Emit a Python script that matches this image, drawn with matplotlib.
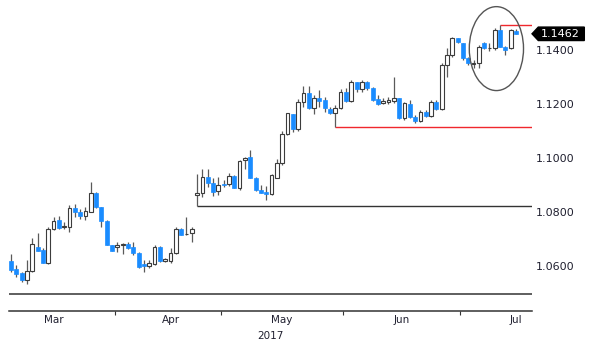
import numpy as np
import pandas as pd
import matplotlib
matplotlib.use('Agg')
import matplotlib.pyplot as plt
import matplotlib.transforms as mtransforms
from matplotlib.patches import Ellipse, Polygon

# Daily EUR/USD candles, 6 Mar 2017 - 17 Jul 2017 (business days)
dates = pd.bdate_range('2017-03-06', '2017-07-17')

opens = [1.0617, 1.0587, 1.0573, 1.0547, 1.0580, 1.0671, 1.0658, 1.0610, 1.0736, 1.0770,
         1.0744, 1.0745, 1.0815, 1.0801, 1.0786, 1.0801, 1.0870, 1.0817, 1.0767, 1.0677,
         1.0668, 1.0676, 1.0680, 1.0671, 1.0646, 1.0605, 1.0600, 1.0605, 1.0671, 1.0617,
         1.0617, 1.0646, 1.0735, 1.0716, 1.0720, 1.0863, 1.0871, 1.0931, 1.0909, 1.0878,
         1.0903, 1.0903, 1.0935, 1.0888, 1.0993, 1.1003, 1.0927, 1.0881, 1.0875, 1.0865,
         1.0927, 1.0981, 1.1088, 1.1163, 1.1108, 1.1210, 1.1241, 1.1185, 1.1222, 1.1216,
         1.1183, 1.1167, 1.1187, 1.1247, 1.1213, 1.1282, 1.1257, 1.1284, 1.1262, 1.1219,
         1.1204, 1.1207, 1.1213, 1.1222, 1.1148, 1.1201, 1.1152, 1.1139, 1.1173, 1.1157,
         1.1210, 1.1183, 1.1346, 1.1383, 1.1445, 1.1427, 1.1371, 1.1351, 1.1352, 1.1427,
         1.1408, 1.1408, 1.1476, 1.1414, 1.1408, 1.1473]
highs = [1.0644, 1.0603, 1.0577, 1.0621, 1.0703, 1.0722, 1.0666, 1.0744, 1.0781, 1.0785,
         1.0762, 1.0826, 1.0829, 1.0811, 1.0818, 1.0911, 1.0874, 1.0818, 1.0768, 1.0678,
         1.0689, 1.0686, 1.0689, 1.0689, 1.0652, 1.0621, 1.0621, 1.0677, 1.0672, 1.0630,
         1.0667, 1.0745, 1.0741, 1.0782, 1.0745, 1.0940, 1.0958, 1.0958, 1.0925, 1.0931,
         1.0919, 1.0944, 1.0937, 1.0993, 1.1005, 1.1030, 1.0931, 1.0900, 1.0896, 1.0939,
         1.0996, 1.1102, 1.1169, 1.1164, 1.1219, 1.1269, 1.1269, 1.1235, 1.1253, 1.1228,
         1.1191, 1.1197, 1.1257, 1.1259, 1.1290, 1.1284, 1.1290, 1.1287, 1.1265, 1.1235,
         1.1222, 1.1228, 1.1303, 1.1225, 1.1210, 1.1216, 1.1160, 1.1179, 1.1179, 1.1216,
         1.1216, 1.1352, 1.1408, 1.1451, 1.1448, 1.1428, 1.1377, 1.1365, 1.1420, 1.1431,
         1.1427, 1.1483, 1.1495, 1.1415, 1.1480, 1.1480]
lows = [1.0577, 1.0558, 1.0539, 1.0532, 1.0577, 1.0655, 1.0609, 1.0608, 1.0733, 1.0736,
        1.0736, 1.0725, 1.0781, 1.0774, 1.0770, 1.0800, 1.0815, 1.0744, 1.0676, 1.0655,
        1.0651, 1.0644, 1.0662, 1.0640, 1.0593, 1.0578, 1.0590, 1.0603, 1.0615, 1.0613,
        1.0609, 1.0644, 1.0713, 1.0715, 1.0689, 1.0823, 1.0857, 1.0891, 1.0859, 1.0863,
        1.0891, 1.0896, 1.0888, 1.0881, 1.0958, 1.0925, 1.0878, 1.0869, 1.0844, 1.0863,
        1.0925, 1.0974, 1.1086, 1.1098, 1.1101, 1.1191, 1.1183, 1.1163, 1.1191, 1.1170,
        1.1163, 1.1117, 1.1183, 1.1210, 1.1210, 1.1247, 1.1247, 1.1253, 1.1212, 1.1197,
        1.1201, 1.1201, 1.1204, 1.1144, 1.1142, 1.1148, 1.1129, 1.1135, 1.1152, 1.1154,
        1.1179, 1.1179, 1.1303, 1.1377, 1.1427, 1.1365, 1.1346, 1.1334, 1.1334, 1.1406,
        1.1398, 1.1402, 1.1412, 1.1383, 1.1406, 1.1462]
closes = [1.0584, 1.0569, 1.0547, 1.0581, 1.0681, 1.0656, 1.0610, 1.0736, 1.0767, 1.0740,
          1.0748, 1.0815, 1.0800, 1.0785, 1.0803, 1.0870, 1.0818, 1.0767, 1.0677, 1.0656,
          1.0677, 1.0678, 1.0667, 1.0646, 1.0596, 1.0600, 1.0609, 1.0671, 1.0617, 1.0624,
          1.0646, 1.0735, 1.0714, 1.0718, 1.0735, 1.0871, 1.0931, 1.0909, 1.0875, 1.0900,
          1.0899, 1.0933, 1.0890, 1.0990, 1.1002, 1.0927, 1.0881, 1.0871, 1.0865, 1.0937,
          1.0981, 1.1088, 1.1167, 1.1108, 1.1210, 1.1241, 1.1185, 1.1222, 1.1213, 1.1185,
          1.1167, 1.1187, 1.1247, 1.1213, 1.1282, 1.1257, 1.1282, 1.1262, 1.1216, 1.1201,
          1.1212, 1.1216, 1.1222, 1.1148, 1.1204, 1.1152, 1.1139, 1.1173, 1.1157, 1.1210,
          1.1183, 1.1346, 1.1383, 1.1445, 1.1431, 1.1371, 1.1352, 1.1354, 1.1414, 1.1408,
          1.1409, 1.1476, 1.1414, 1.1402, 1.1476, 1.1462]

yticks = [1.06, 1.08, 1.10, 1.12, 1.14]
last_price = 1.1462
floor_level = 1.0495            # flat black line at the bottom
apr_low = lows[35]              # 24 Apr gap-day low
may_low = lows[61]              # 30 May low
jul_high = max(highs)           # July high

blue = '#1a8cff'
edge = '#3c3c3c'
wick = '#5a5a5a'
red = '#f0282d'

x = np.arange(len(dates))
o = np.array(opens)
h = np.array(highs)
l = np.array(lows)
c = np.array(closes)
up = c >= o

fig = plt.figure(figsize=(6, 3.51), dpi=100)
ax = fig.add_axes([0.015, 0.114, 0.8717, 0.886])
xmin, xmax = -0.38, 98.0
ax.set_xlim(xmin, xmax)
ax.set_ylim(1.04316, 1.15877)

# wicks
ax.vlines(x, l, h, color=wick, linewidth=0.9, zorder=2)
# bodies
body_bot = np.minimum(o, c)
body_h = np.maximum(np.abs(c - o), 0.0003)
ax.bar(x[up], body_h[up], bottom=body_bot[up], width=0.7,
       color='white', edgecolor=edge, linewidth=0.8, zorder=3)
ax.bar(x[~up], body_h[~up], bottom=body_bot[~up], width=0.75,
       color=blue, edgecolor=blue, linewidth=0.5, zorder=3)

# support / resistance lines
ax.axhline(floor_level, color='#333333', linewidth=1.1, zorder=1)
ax.hlines(apr_low, 35, xmax, color='#333333', linewidth=1.0, zorder=1)
ax.hlines(may_low, 61, xmax, color=red, linewidth=1.0, zorder=1)
ax.hlines(jul_high, 92, xmax, color=red, linewidth=1.0, zorder=1)

# circle around the recent range
ax.add_patch(Ellipse((91.3, 1.1407), 10.2, 0.0312, fill=False,
                     edgecolor='#555555', linewidth=1.0, zorder=4))

# last price tag
trans = mtransforms.blended_transform_factory(ax.transAxes, ax.transData)
tag = Polygon([(1.0, last_price), (1.012, last_price + 0.0025), (1.10, last_price + 0.0025),
               (1.10, last_price - 0.0025), (1.012, last_price - 0.0025)],
              closed=True, transform=trans, facecolor='black', edgecolor='black',
              clip_on=False, zorder=5)
ax.add_patch(tag)
ax.text(1.016, last_price, f'{last_price:.4f}', transform=trans, color='white',
        fontsize=8, va='center', ha='left', zorder=6)

# y axis on the right
ax.yaxis.tick_right()
ax.set_yticks(yticks)
ax.set_yticklabels([f'{v:.4f}' for v in yticks])
ax.tick_params(axis='y', length=0, pad=3, labelsize=8, labelcolor='#202030')

# month boundaries and labels
month_ends = [i for i in range(len(dates) - 1) if dates[i].month != dates[i + 1].month]
ax.set_xticks([i + 0.5 for i in month_ends])
ax.set_xticklabels([])
ax.tick_params(axis='x', length=3, width=0.8, color='#333333', direction='out')

xtrans = mtransforms.blended_transform_factory(ax.transData, ax.transAxes)
start = dates[0].date()
for m in pd.period_range('2017-03', '2017-07', freq='M'):
    a = np.busday_count(start, m.start_time.date())
    b = np.busday_count(start, m.end_time.date())
    ax.text((a + b) / 2, -0.012, m.strftime('%b'), transform=xtrans,
            ha='center', va='top', fontsize=7.5, color='#202030')
ax.text(0.5, -0.065, '2017', transform=ax.transAxes, ha='center', va='top',
        fontsize=7.5, color='#202030')

for s in ['top', 'left', 'right']:
    ax.spines[s].set_visible(False)
ax.spines['bottom'].set_color('#333333')
ax.spines['bottom'].set_linewidth(1.1)

fig.savefig('out.png', dpi=100)
